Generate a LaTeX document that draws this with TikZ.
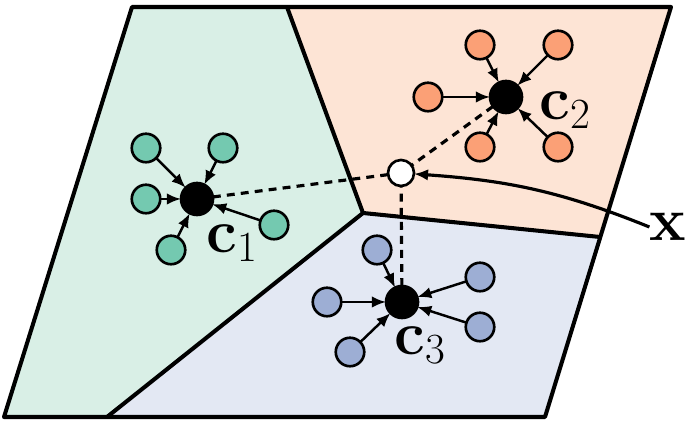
\RequirePackage{fix-cm}
\documentclass[tikz,border=0pt]{standalone}
\usetikzlibrary{arrows.meta}

\definecolor{greenreg}{RGB}{217,239,230}
\definecolor{orangereg}{RGB}{253,228,213}
\definecolor{bluereg}{RGB}{227,232,243}
\definecolor{greennode}{RGB}{116,201,176}
\definecolor{orangenode}{RGB}{251,160,118}
\definecolor{bluenode}{RGB}{157,174,212}

\tikzset{
	border/.style={line width=2.3pt, line join=round},
	vertex/.style={draw, circle, line width=1.5pt, inner sep=0pt, outer sep=0pt},
	centre/.style={vertex, fill=black, minimum size=6.4mm},
	query/.style={vertex, fill=white, minimum size=5.2mm},
	sample/.style={vertex, minimum size=5.7mm},
	lab/.style={font=\fontsize{35}{42}\selectfont, inner sep=0pt},
	tip/.style={-{Latex[length=8pt,width=6.5pt]}},
	pull/.style={tip, line width=1.4pt},
	link/.style={line width=1.8pt, dash pattern=on 4.5pt off 3.5pt}
}

\begin{document}
\begin{tikzpicture}[x=0.2mm,y=0.2mm]
	\useasboundingbox (0,0) rectangle (700,427);
	% regions
	\fill[greenreg] (132,420) -- (287,420) -- (363,214) -- (107,10) -- (4,10) -- cycle;
	\fill[orangereg] (287,420) -- (671,420) -- (600,190) -- (363,214) -- cycle;
	\fill[bluereg] (363,214) -- (600,190) -- (545,10) -- (107,10) -- cycle;
	\draw[border] (132,420) -- (671,420) -- (545,10) -- (4,10) -- cycle;
	\draw[border] (287,420) -- (363,214) -- (107,10);
	\draw[border] (363,214) -- (600,190);
	% centres and query point
		\node[centre] (c1) at (197,228) {};
		\node[centre] (c2) at (506,330) {};
		\node[centre] (c3) at (402,125) {};
		\node[query] (q) at (401,254) {};
	% cluster 1
		\node[sample, fill=greennode] (g1) at (146,279) {};
		\node[sample, fill=greennode] (g2) at (223,279) {};
		\node[sample, fill=greennode] (g3) at (146,228) {};
		\node[sample, fill=greennode] (g4) at (274,202) {};
		\node[sample, fill=greennode] (g5) at (171,177) {};
	% cluster 2
		\node[sample, fill=orangenode] (o1) at (480,382) {};
		\node[sample, fill=orangenode] (o2) at (558,382) {};
		\node[sample, fill=orangenode] (o3) at (428,330) {};
		\node[sample, fill=orangenode] (o4) at (480,280) {};
		\node[sample, fill=orangenode] (o5) at (558,280) {};
	% cluster 3
		\node[sample, fill=bluenode] (b1) at (377,177) {};
		\node[sample, fill=bluenode] (b2) at (480,150) {};
		\node[sample, fill=bluenode] (b3) at (327,125) {};
		\node[sample, fill=bluenode] (b4) at (480,100) {};
		\node[sample, fill=bluenode] (b5) at (350,75) {};
	% arrows to the centres
		\draw[pull] (g1) -- (c1);
		\draw[pull] (g2) -- (c1);
		\draw[pull] (g3) -- (c1);
		\draw[pull] (g4) -- (c1);
		\draw[pull] (g5) -- (c1);
		\draw[pull] (o1) -- (c2);
		\draw[pull] (o2) -- (c2);
		\draw[pull] (o3) -- (c2);
		\draw[pull] (o4) -- (c2);
		\draw[pull] (o5) -- (c2);
		\draw[pull] (b1) -- (c3);
		\draw[pull] (b2) -- (c3);
		\draw[pull] (b3) -- (c3);
		\draw[pull] (b4) -- (c3);
		\draw[pull] (b5) -- (c3);
	% distances
		\draw[link] (c1) -- (q);
		\draw[link] (c2) -- (q);
		\draw[link] (c3) -- (q);
	% labels
	\node[lab] (l1) at (232,184) {$\mathbf{c}_1$};
	\node[lab] (l2) at (565,317) {$\mathbf{c}_2$};
	\node[lab] (l3) at (420,82) {$\mathbf{c}_3$};
	\node[lab] (xl) at (668,200) {$\mathbf{x}$};
	\draw[line width=1.8pt, tip] (xl.west) to[out=158, in=-4] (q);
\end{tikzpicture}
\end{document}
